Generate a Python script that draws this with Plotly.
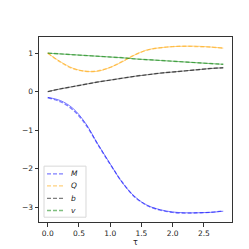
import plotly.graph_objects as go

tau = [0.0, 0.2, 0.4, 0.6, 0.8, 1.0, 1.2, 1.4, 1.6, 1.8, 2.0, 2.2, 2.4, 2.6, 2.81]

M_true = [-0.15, -0.23, -0.43, -0.81, -1.36, -1.88, -2.38, -2.74, -2.96, -3.07, -3.13, -3.15, -3.15, -3.14, -3.11]
M_pred = [-0.16, -0.26, -0.47, -0.84, -1.37, -1.89, -2.37, -2.75, -2.97, -3.08, -3.14, -3.16, -3.15, -3.14, -3.10]
Q_true = [1.00, 0.78, 0.61, 0.53, 0.53, 0.63, 0.78, 0.96, 1.09, 1.14, 1.17, 1.18, 1.18, 1.16, 1.13]
Q_pred = [1.00, 0.77, 0.60, 0.53, 0.54, 0.63, 0.79, 0.96, 1.08, 1.14, 1.17, 1.18, 1.17, 1.16, 1.13]
b_true = [0.00, 0.07, 0.13, 0.19, 0.25, 0.30, 0.35, 0.40, 0.44, 0.48, 0.51, 0.54, 0.57, 0.60, 0.62]
b_pred = [0.00, 0.07, 0.13, 0.19, 0.25, 0.30, 0.35, 0.40, 0.44, 0.48, 0.51, 0.54, 0.57, 0.60, 0.62]
v_true = [1.00, 0.98, 0.96, 0.94, 0.92, 0.90, 0.88, 0.85, 0.83, 0.81, 0.79, 0.77, 0.75, 0.73, 0.71]
v_pred = [1.00, 0.98, 0.96, 0.94, 0.92, 0.90, 0.88, 0.85, 0.83, 0.81, 0.79, 0.77, 0.75, 0.73, 0.71]

names = ["M", "Q", "b", "v"]
colors = ["#0000ff", "#ffa500", "#000000", "#008000"]
trues = [M_true, Q_true, b_true, v_true]
preds = [M_pred, Q_pred, b_pred, v_pred]

fig = go.Figure()
for name, c, yt in zip(names, colors, trues):
    fig.add_trace(go.Scatter(x=tau, y=yt, mode="lines", line=dict(color=c, width=1.0, shape="spline"),
                             opacity=0.5, showlegend=False, hoverinfo="skip"))
for name, c, yp in zip(names, colors, preds):
    fig.add_trace(go.Scatter(x=tau, y=yp, mode="lines", name=name,
                             line=dict(color=c, width=1.4, dash="4px,2px", shape="spline"),
                             opacity=0.5, showlegend=False))

# legend drawn in paper coordinates (matplotlib-like compact legend)
shapes = [dict(type="rect", xref="paper", yref="paper", x0=0.026, x1=0.2435, y0=0.026, y1=0.302,
               line=dict(color="#d8d8d8", width=1), fillcolor="rgba(255,255,255,0.8)", layer="above")]
annotations = []
leg_y = [0.2604, 0.1953, 0.1276, 0.0625]
for name, c, yy in zip(names, colors, leg_y):
    shapes.append(dict(type="line", xref="paper", yref="paper", x0=0.0415, x1=0.125, y0=yy, y1=yy,
                       line=dict(color=c, width=1.4, dash="4px,2px"), opacity=0.5, layer="above"))
    annotations.append(dict(xref="paper", yref="paper", x=0.155, y=yy, xanchor="left", yanchor="middle",
                            text="<i>%s</i>" % name, showarrow=False,
                            font=dict(family="DejaVu Sans", size=7.5, color="#222222")))

axis_common = dict(showgrid=False, zeroline=False, showline=True, linecolor="#333333", linewidth=1,
                   mirror=True, ticks="outside", ticklen=3.5, tickwidth=0.8, tickcolor="#333333",
                   tickfont=dict(family="DejaVu Sans", size=7.5, color="#222222"))

fig.update_layout(
    width=249, height=249,
    margin=dict(l=31, r=25, t=29, b=28),
    paper_bgcolor="white", plot_bgcolor="white",
    xaxis=dict(range=[-0.14, 2.95], tickvals=[0, 0.5, 1.0, 1.5, 2.0, 2.5],
               ticktext=["0.0", "0.5", "1.0", "1.5", "2.0", "2.5"],
               title=dict(text="τ", font=dict(family="DejaVu Sans", size=8, color="#222222"), standoff=2),
               **axis_common),
    yaxis=dict(range=[-3.39, 1.42], tickvals=[-3, -2, -1, 0, 1],
               ticktext=["−3", "−2", "−1", "0", "1"], **axis_common),
    shapes=shapes,
    annotations=annotations,
    showlegend=False,
)

fig.write_html("out.html")
